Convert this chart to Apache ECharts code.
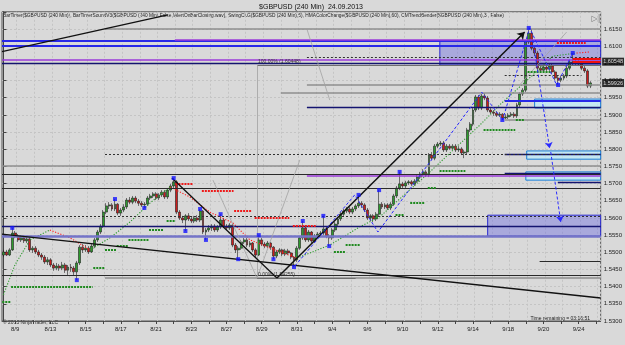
<!DOCTYPE html>
<html><head><meta charset="utf-8">
<script src="https://cdn.jsdelivr.net/npm/echarts@6/dist/echarts.min.js"></script>
<style>html,body{margin:0;padding:0;background:#d9d9d9}#c{width:625px;height:345px}</style>
</head><body><div id="c"></div>
<script>
// ---------- data ----------
const tickLabels = ['8/9','8/13','8/15','8/17','8/21','8/23','8/27','8/29','8/31','9/4','9/6','9/10','9/12','9/14','9/18','9/20','9/24'];
// [open, close, low, high]
const candles = [
[1.5492,1.5501,1.5486,1.5507],[1.5501,1.5492,1.5489,1.5507],[1.5492,1.5507,1.5489,1.5512],[1.5507,1.5556,1.5504,1.5571],
[1.5556,1.5547,1.5541,1.5562],[1.5547,1.5536,1.5530,1.5553],[1.5536,1.5542,1.5530,1.5550],[1.5542,1.5533,1.5527,1.5547],
[1.5533,1.5539,1.5527,1.5547],[1.5539,1.5507,1.5501,1.5544],[1.5507,1.5512,1.5498,1.5518],[1.5512,1.5501,1.5495,1.5518],
[1.5501,1.5492,1.5486,1.5507],[1.5492,1.5486,1.5478,1.5498],[1.5486,1.5472,1.5466,1.5492],[1.5472,1.5478,1.5463,1.5486],
[1.5478,1.5463,1.5457,1.5483],[1.5463,1.5454,1.5446,1.5469],[1.5454,1.5460,1.5448,1.5469],[1.5460,1.5454,1.5446,1.5466],
[1.5454,1.5463,1.5448,1.5472],[1.5463,1.5448,1.5440,1.5469],[1.5448,1.5457,1.5434,1.5463],[1.5457,1.5454,1.5443,1.5466],
[1.5454,1.5443,1.5434,1.5460],[1.5443,1.5469,1.5419,1.5475],[1.5469,1.5515,1.5463,1.5521],[1.5515,1.5507,1.5498,1.5524],
[1.5507,1.5512,1.5501,1.5521],[1.5512,1.5501,1.5495,1.5518],[1.5501,1.5518,1.5498,1.5524],[1.5518,1.5536,1.5512,1.5542],
[1.5536,1.5559,1.5530,1.5565],[1.5559,1.5576,1.5553,1.5582],[1.5576,1.5617,1.5571,1.5623],[1.5617,1.5635,1.5611,1.5643],
[1.5635,1.5638,1.5626,1.5646],[1.5638,1.5626,1.5620,1.5643],[1.5626,1.5640,1.5620,1.5655],[1.5640,1.5614,1.5608,1.5643],
[1.5614,1.5623,1.5606,1.5629],[1.5623,1.5632,1.5617,1.5640],[1.5632,1.5652,1.5626,1.5658],[1.5652,1.5646,1.5640,1.5661],
[1.5646,1.5658,1.5640,1.5664],[1.5658,1.5649,1.5643,1.5664],[1.5649,1.5643,1.5635,1.5655],[1.5643,1.5638,1.5632,1.5649],
[1.5638,1.5640,1.5629,1.5646],[1.5640,1.5658,1.5635,1.5664],[1.5658,1.5664,1.5652,1.5670],[1.5664,1.5670,1.5658,1.5675],
[1.5670,1.5658,1.5652,1.5675],[1.5658,1.5667,1.5652,1.5672],[1.5667,1.5675,1.5661,1.5681],[1.5675,1.5661,1.5655,1.5681],
[1.5661,1.5681,1.5655,1.5687],[1.5681,1.5693,1.5675,1.5699],[1.5693,1.5705,1.5687,1.5716],[1.5705,1.5617,1.5611,1.5710],
[1.5617,1.5600,1.5594,1.5623],[1.5600,1.5594,1.5585,1.5606],[1.5594,1.5606,1.5562,1.5611],[1.5606,1.5597,1.5591,1.5614],
[1.5597,1.5591,1.5585,1.5603],[1.5591,1.5600,1.5585,1.5606],[1.5600,1.5594,1.5588,1.5608],[1.5594,1.5620,1.5588,1.5626],
[1.5620,1.5559,1.5553,1.5623],[1.5559,1.5565,1.5536,1.5571],[1.5565,1.5571,1.5559,1.5579],[1.5571,1.5576,1.5562,1.5582],
[1.5576,1.5565,1.5559,1.5582],[1.5565,1.5574,1.5559,1.5579],[1.5574,1.5594,1.5568,1.5611],[1.5594,1.5576,1.5571,1.5600],
[1.5576,1.5571,1.5565,1.5582],[1.5571,1.5579,1.5565,1.5585],[1.5579,1.5521,1.5515,1.5582],[1.5521,1.5507,1.5498,1.5527],
[1.5507,1.5512,1.5480,1.5518],[1.5512,1.5530,1.5507,1.5536],[1.5530,1.5536,1.5524,1.5542],[1.5536,1.5521,1.5515,1.5542],
[1.5521,1.5527,1.5515,1.5533],[1.5527,1.5507,1.5501,1.5530],[1.5507,1.5492,1.5486,1.5512],[1.5492,1.5536,1.5489,1.5550],
[1.5536,1.5524,1.5518,1.5542],[1.5524,1.5518,1.5512,1.5530],[1.5518,1.5527,1.5512,1.5533],[1.5527,1.5515,1.5507,1.5530],
[1.5515,1.5489,1.5480,1.5518],[1.5489,1.5501,1.5483,1.5507],[1.5501,1.5507,1.5495,1.5512],[1.5507,1.5495,1.5489,1.5510],
[1.5495,1.5504,1.5489,1.5510],[1.5504,1.5498,1.5492,1.5510],[1.5498,1.5486,1.5480,1.5501],[1.5486,1.5478,1.5457,1.5489],
[1.5478,1.5512,1.5472,1.5518],[1.5512,1.5542,1.5507,1.5547],[1.5542,1.5571,1.5536,1.5591],[1.5571,1.5536,1.5530,1.5576],
[1.5536,1.5559,1.5530,1.5565],[1.5559,1.5533,1.5527,1.5562],[1.5533,1.5547,1.5527,1.5553],[1.5547,1.5553,1.5541,1.5559],
[1.5553,1.5556,1.5544,1.5562],[1.5556,1.5568,1.5550,1.5606],[1.5568,1.5547,1.5541,1.5574],[1.5547,1.5542,1.5518,1.5553],
[1.5542,1.5565,1.5536,1.5571],[1.5565,1.5582,1.5559,1.5588],[1.5582,1.5597,1.5576,1.5603],[1.5597,1.5611,1.5591,1.5617],
[1.5611,1.5620,1.5606,1.5626],[1.5620,1.5626,1.5614,1.5632],[1.5626,1.5617,1.5611,1.5632],[1.5617,1.5626,1.5611,1.5632],
[1.5626,1.5635,1.5620,1.5640],[1.5635,1.5643,1.5629,1.5667],[1.5643,1.5638,1.5629,1.5649],[1.5638,1.5623,1.5617,1.5643],
[1.5623,1.5600,1.5594,1.5629],[1.5600,1.5606,1.5591,1.5611],[1.5606,1.5597,1.5588,1.5611],[1.5597,1.5611,1.5591,1.5617],
[1.5611,1.5640,1.5606,1.5681],[1.5640,1.5632,1.5626,1.5646],[1.5632,1.5638,1.5626,1.5643],[1.5638,1.5629,1.5623,1.5643],
[1.5629,1.5640,1.5623,1.5646],[1.5640,1.5664,1.5635,1.5670],[1.5664,1.5687,1.5658,1.5693],[1.5687,1.5699,1.5681,1.5734],
[1.5699,1.5693,1.5687,1.5705],[1.5693,1.5702,1.5687,1.5708],[1.5702,1.5705,1.5696,1.5710],[1.5705,1.5699,1.5693,1.5710],
[1.5699,1.5707,1.5693,1.5713],[1.5707,1.5719,1.5702,1.5725],[1.5719,1.5728,1.5713,1.5734],[1.5728,1.5734,1.5722,1.5742],
[1.5734,1.5725,1.5719,1.5739],[1.5725,1.5783,1.5719,1.5789],[1.5783,1.5774,1.5768,1.5792],[1.5774,1.5809,1.5768,1.5815],
[1.5809,1.5815,1.5803,1.5821],[1.5815,1.5818,1.5809,1.5824],[1.5818,1.5798,1.5792,1.5824],[1.5798,1.5809,1.5792,1.5815],
[1.5809,1.5803,1.5798,1.5815],[1.5803,1.5809,1.5798,1.5815],[1.5809,1.5798,1.5792,1.5815],[1.5798,1.5801,1.5792,1.5809],
[1.5801,1.5789,1.5783,1.5806],[1.5789,1.5792,1.5774,1.5798],[1.5792,1.5856,1.5786,1.5862],[1.5856,1.5873,1.5850,1.5879],
[1.5873,1.5914,1.5867,1.5920],[1.5914,1.5952,1.5908,1.5958],[1.5952,1.5920,1.5914,1.5958],[1.5920,1.5955,1.5914,1.5961],
[1.5955,1.5949,1.5943,1.5963],[1.5949,1.5914,1.5908,1.5955],[1.5914,1.5908,1.5902,1.5920],[1.5908,1.5905,1.5897,1.5914],
[1.5905,1.5899,1.5894,1.5911],[1.5899,1.5902,1.5894,1.5908],[1.5902,1.5891,1.5885,1.5905],[1.5891,1.5894,1.5888,1.5902],
[1.5894,1.5899,1.5888,1.5905],[1.5899,1.5902,1.5894,1.5908],[1.5902,1.5897,1.5891,1.5908],[1.5897,1.5929,1.5891,1.5935],
[1.5929,1.5961,1.5923,1.5966],[1.5961,1.5972,1.5955,1.5978],[1.5972,1.6112,1.5966,1.6118],[1.6112,1.6138,1.6106,1.6153],
[1.6138,1.6094,1.6088,1.6150],[1.6094,1.6080,1.6071,1.6100],[1.6080,1.6036,1.6028,1.6086],[1.6036,1.6030,1.6022,1.6045],
[1.6030,1.6039,1.6025,1.6045],[1.6039,1.6033,1.6025,1.6045],[1.6033,1.6042,1.6028,1.6048],[1.6042,1.6025,1.6019,1.6048],
[1.6025,1.6007,1.6001,1.6030],[1.6007,1.6001,1.5987,1.6013],[1.6001,1.6007,1.5995,1.6013],[1.6007,1.6013,1.6001,1.6019],
[1.6013,1.6036,1.6007,1.6042],[1.6036,1.6054,1.6030,1.6060],[1.6054,1.6051,1.6045,1.6080],[1.6051,1.6054,1.6045,1.6060],
[1.6054,1.6048,1.6042,1.6060],[1.6048,1.6036,1.6030,1.6054],[1.6036,1.6028,1.6022,1.6042],[1.6028,1.5984,1.5978,1.6033],
[1.5984,1.5993,1.5978,1.5998]
];
// horizontal levels: [fromBar, toBar, price]
const grayLevels   = [[34.6,203.5,1.6150],[103.4,203.5,1.5987],[94.5,203.5,1.5963],[170.8,203.5,1.5885],[-0.5,203.5,1.5751],[34.6,203.5,1.5425]];
const blueLevels   = [[-0.5,203.5,1.6115],[-0.5,203.5,1.6100],[170.8,203.5,1.5940]];
const violetLevels = [[58.4,203.5,1.6118],[-0.5,203.5,1.6060],[103.4,203.5,1.5722]];
const navyLevels   = [[-0.5,203.5,1.6049],[103.4,203.5,1.5923],[-0.5,203.5,1.5576],[170.8,203.5,1.5786],[170.8,203.5,1.5731],[188.9,203.5,1.5705]];
const blackLevels  = [[-0.5,203.5,1.5728],[-0.5,203.5,1.5687],[-0.5,203.5,1.5434],[182.7,203.5,1.5475]];
const dottedLevels = [[103.4,203.5,1.6068],[170.8,197,1.6016],[34.6,203.5,1.5786],[-0.5,203.5,1.5606]];
const lavenderLevels = [[-0.5,203.5,1.5547]];
const redLevels    = [[194,203.5,1.6063],[194,203.5,1.6054]];
const fibLevels    = [[86.4,203.5,1.6045,'100.00% (1.60448)'],[86.4,120,1.5425,'0.00% (1.54255)']];
// zones: [fromBar, toBar, lowPrice, highPrice]
const purpleZones = [[148.7,203.5,1.6045,1.6115],[165,203.5,1.5547,1.5608]];
const cyanZones   = [[181,203.5,1.5920,1.5946],[178.3,203.5,1.5771,1.5795],[178,203.5,1.5710,1.5734]];
// sloped lines: [bar0, price0, bar1, price1]
const blackArrows = [[1.5,1.5297,56,1.5710],[93.2,1.5425,177.6,1.6141]];
const blackTrend  = [[57.4,1.5716,93.2,1.5425],[-0.5,1.6084,56,1.6191],[-0.5,1.5553,203.5,1.5367]];
const grayDiag    = [[25.7,1.5297,89.8,1.6150],[103.4,1.6150,111.2,1.5943],[71.4,1.5710,86.4,1.5425],[86.4,1.5425,101,1.5769],[191.9,1.6141,175.9,1.5987],[86.4,1.6045,86.4,1.5425]];
const blueZigzag  = [[99.3,1.5460],[119.7,1.5667],[127.6,1.5559],[163,1.5966],[170.1,1.5885],[179.3,1.6153],[188.5,1.5987],[194,1.6080]];
const blueProjection = [[180.4,1.6118,186.1,1.5803],[186.5,1.5792,189.9,1.5588]];
// moving average (colour changing) sample points
const hmaUp = [
  [[0,1.5376],[3.9,1.5463],[9,1.5536],[15.8,1.5565]],
  [[29.5,1.5507],[36.3,1.5542],[43.1,1.5588],[49.9,1.5643],[56.7,1.5690]],
  [[100,1.5483],[111.2,1.5521],[121.4,1.5574],[128.2,1.5603],[145.3,1.5734],[162.3,1.5870],[169.1,1.5929],[180.4,1.6016],[187.2,1.6071],[195.3,1.6080]]
];
const hmaDown = [
  [[15.8,1.5565],[22.7,1.5542],[29.5,1.5507]],
  [[56.7,1.5690],[63.5,1.5661],[70.3,1.5617],[78.2,1.5585],[84,1.5536],[92.5,1.5507],[100,1.5483]],
  [[195.3,1.6080],[199.8,1.6083]]
];
// trailing stop runs: [fromBar, toBar, price]
const greenStops = [[0,2,1.5355],[3,30,1.5399],[31,34,1.5454],[35,38,1.5507],[39,42,1.5518],[43,49,1.5536],[50,54,1.5565],[56,58,1.5591],[113,116,1.5501],[117,121,1.5521],[134,136,1.5608],[139,143,1.5643],[145,147,1.5687],[149,157,1.5736],[164,174,1.5856],[175,177,1.5885],[179,186,1.6025]];
const redStops   = [[59,64,1.5699],[68,78,1.5678],[79,84,1.5620],[86,97,1.5600],[99,106,1.5576],[189,198,1.6109]];
// swing points [bar, price]
const swingPoints = [[3,1.5571],[25,1.5419],[38,1.5655],[48,1.5629],[58,1.5716],[62,1.5562],[67,1.5626],[69,1.5536],[74,1.5611],[80,1.5480],[87,1.5550],[92,1.5480],[99,1.5457],[102,1.5591],[109,1.5606],[111,1.5518],[121,1.5667],[128,1.5681],[135,1.5734],[170,1.5885],[179,1.6153],[189,1.5987],[194,1.6080]];
const priceTags = [['1.60548',1.60548],['1.59926',1.59926]];

// ---------- chart ----------
const FONT = 'Liberation Sans';
const N = 204;
const cats = Array.from({length: N}, (_, i) => String(i));
const chart = echarts.init(document.getElementById('c'), null, {renderer: 'canvas', width: 625, height: 345});

function hSeg(arr) { return arr.map(([a, b, p]) => [{coord: [a, p]}, {coord: [b, p]}]); }
function sSeg(arr) { return arr.map(([a, p, b, q]) => [{coord: [a, p]}, {coord: [b, q]}]); }
function runSeg(arr) { return arr.map(([a, b, p]) => [{coord: [a - 0.4, p]}, {coord: [b + 0.4, p]}]); }
function mlSeries(data, lineStyle, z, extra) {
  return {
    type: 'line', xAxisIndex: 1, yAxisIndex: 0, data: [], silent: true, z: z,
    markLine: Object.assign({silent: true, symbol: 'none', animation: false, label: {show: false},
      emphasis: {disabled: true}, lineStyle: lineStyle, data: data}, extra || {})
  };
}
function zoneSeries(arr, fill, border, z) {
  return {
    type: 'line', xAxisIndex: 1, yAxisIndex: 0, data: [], silent: true, z: z,
    markArea: {silent: true, animation: false, emphasis: {disabled: true},
      itemStyle: {color: fill, borderColor: border, borderWidth: 1},
      data: arr.map(([a, b, lo, hi]) => [{coord: [a, hi]}, {coord: [b, lo]}])}
  };
}

const series = [];
series.push(zoneSeries(purpleZones, 'rgba(110,110,225,0.45)', '#2a2ad0', 1));
series.push(zoneSeries(cyanZones, 'rgba(190,235,250,0.75)', '#1c7fd8', 1));
series.push(mlSeries(hSeg(grayLevels), {color: '#8e8e8e', width: 1.5, type: 'solid'}, 2));
series.push(mlSeries(hSeg(blueLevels), {color: '#2828e8', width: 2, type: 'solid'}, 2));
series.push(mlSeries(hSeg(violetLevels), {color: '#9a3ad8', width: 1.5, type: 'solid'}, 2));
series.push(mlSeries(hSeg(navyLevels), {color: '#141470', width: 1.3, type: 'solid'}, 2));
series.push(mlSeries(hSeg(blackLevels), {color: '#2a2a2a', width: 1.2, type: 'solid'}, 2));
series.push(mlSeries(hSeg(dottedLevels), {color: '#303030', width: 1, type: [2, 2]}, 2));
series.push(mlSeries(hSeg(lavenderLevels), {color: '#7474c8', width: 2.5, type: 'solid'}, 2));
series.push(mlSeries(hSeg(redLevels), {color: '#ee1010', width: 2, type: 'solid'}, 2));
series.push(mlSeries(fibLevels.map(([a, b, p, t]) => [{coord: [a, p], name: t}, {coord: [b, p]}]),
  {color: '#6e6e6e', width: 1, type: 'solid'}, 2,
  {label: {show: true, position: 'insideStartTop', formatter: '{b}', fontSize: 5, color: '#333', fontFamily: FONT, distance: 1}}));
series.push(mlSeries(sSeg(grayDiag), {color: '#a2a2a2', width: 0.8, type: 'solid'}, 2));

series.push({
  type: 'candlestick', xAxisIndex: 0, yAxisIndex: 0, data: candles, barWidth: 2.4, z: 3, silent: true,
  itemStyle: {color: '#2e9a2e', color0: '#cc1c1c', borderColor: '#202020', borderColor0: '#202020', borderWidth: 0.6}
});

hmaUp.forEach(seg => series.push({type: 'line', xAxisIndex: 1, yAxisIndex: 0, data: seg, showSymbol: false, silent: true, z: 4,
  lineStyle: {color: '#2f9a2f', width: 1.1, type: [1.2, 1.6]}}));
hmaDown.forEach(seg => series.push({type: 'line', xAxisIndex: 1, yAxisIndex: 0, data: seg, showSymbol: false, silent: true, z: 4,
  lineStyle: {color: '#ff2020', width: 1.1, type: [1.2, 1.6]}}));
series.push(mlSeries(runSeg(greenStops), {color: '#1f8a1f', width: 2.2, type: [2, 1], cap: 'butt'}, 4));
series.push(mlSeries(runSeg(redStops), {color: '#ee1a1a', width: 2.2, type: [2, 1], cap: 'butt'}, 4));

series.push({type: 'line', xAxisIndex: 1, yAxisIndex: 0, data: blueZigzag, showSymbol: false, silent: true, z: 5,
  lineStyle: {color: '#2a2aff', width: 1, type: [3, 2]}});
series.push(mlSeries(sSeg(blueProjection), {color: '#2a2aff', width: 1, type: [3, 2]}, 5, {symbol: ['none', 'arrow'], symbolSize: 6}));
series.push(mlSeries(sSeg(blackArrows), {color: '#111', width: 1.5, type: 'solid'}, 5, {symbol: ['none', 'arrow'], symbolSize: 7}));
series.push(mlSeries(sSeg(blackTrend), {color: '#111', width: 1.3, type: 'solid'}, 5));

series.push({type: 'scatter', xAxisIndex: 1, yAxisIndex: 0, data: swingPoints, symbol: 'rect', symbolSize: 4, silent: true, z: 6,
  itemStyle: {color: '#1414ff'}});

// price tags on the right axis
series.push({
  type: 'scatter', xAxisIndex: 1, yAxisIndex: 0, silent: true, z: 20, clip: false,
  symbol: 'rect', symbolSize: [1, 1], itemStyle: {color: 'rgba(0,0,0,0)'},
  data: priceTags.map(([t, v]) => ({value: [203.5, v], name: t})),
  label: {show: true, position: 'right', distance: 1, formatter: '{b}', color: '#fff', backgroundColor: '#000',
    fontSize: 5.5, fontFamily: FONT, padding: [1, 1, 1, 1]}
});

chart.setOption({
  animation: false,
  backgroundColor: '#d9d9d9',
  textStyle: {fontFamily: FONT},
  grid: {left: 2, right: 24, top: 11.8, bottom: 24, show: true, borderColor: '#555', borderWidth: 1, backgroundColor: 'transparent'},
  xAxis: [
    {type: 'category', data: cats, boundaryGap: true, position: 'bottom',
      axisLine: {show: true, lineStyle: {color: '#555'}},
      axisTick: {show: true, alignWithLabel: true, length: 3, interval: (i) => i % 6 === 4, lineStyle: {color: '#444'}},
      axisLabel: {interval: 0, fontSize: 6, color: '#222', margin: 5, fontFamily: FONT,
        formatter: (v, i) => (i % 12 === 4 && tickLabels[(i - 4) / 12]) ? tickLabels[(i - 4) / 12] : ''},
      splitLine: {show: true, interval: (i) => i % 6 === 5, lineStyle: {color: '#c4c4c4', width: 1, type: [2, 2]}}},
    {type: 'value', min: -0.5, max: 203.5, show: false, splitLine: {show: false}}
  ],
  yAxis: [{type: 'value', position: 'right', min: 1.53, max: 1.62, interval: 0.005, scale: true,
    axisLine: {show: true, lineStyle: {color: '#444'}},
    axisTick: {show: true, length: 3, lineStyle: {color: '#444'}},
    axisLabel: {fontSize: 6, color: '#222', margin: 3, fontFamily: FONT,
      formatter: (v) => v > 1.6151 ? '' : v.toFixed(4)},
    splitLine: {show: true, lineStyle: {color: '#c4c4c4', width: 1, type: [2, 2]}}}],
  graphic: [
    {type: 'text', x: 311, y: 7, silent: true, style: {text: '$GBPUSD (240 Min)  24.09.2013', fontSize: 7, fontFamily: FONT, fill: '#111', align: 'center', verticalAlign: 'middle'}},
    {type: 'text', x: 3, y: 16, silent: true, style: {text: 'BarTimer($GBPUSD (240 Min)), BarTimerSoundV3($GBPUSD (240 Min),False,!AlertOnBarClosing.wav), SwingCLG($GBPUSD (240 Min),5), HMAColorChange($GBPUSD (240 Min),60), CMTrendBender($GBPUSD (240 Min),3 , False)', fontSize: 4.8, fontFamily: FONT, fill: '#222', verticalAlign: 'middle'}},
    {type: 'text', x: 596, y: 19, silent: true, style: {text: '▷|', fontSize: 8, fontFamily: 'DejaVu Sans', fill: '#777', align: 'center', verticalAlign: 'middle'}},
    {type: 'text', x: 3, y: 323, silent: true, style: {text: '© 2013 NinjaTrader, LLC', fontSize: 5, fontFamily: FONT, fill: '#333', verticalAlign: 'middle'}},
    {type: 'text', x: 590, y: 321, silent: true, style: {text: 'Time remaining = 03:16:51', fontSize: 5, fontFamily: FONT, fill: '#222', align: 'right', verticalAlign: 'bottom'}}
  ],
  series: series
});
</script>
</body></html>
